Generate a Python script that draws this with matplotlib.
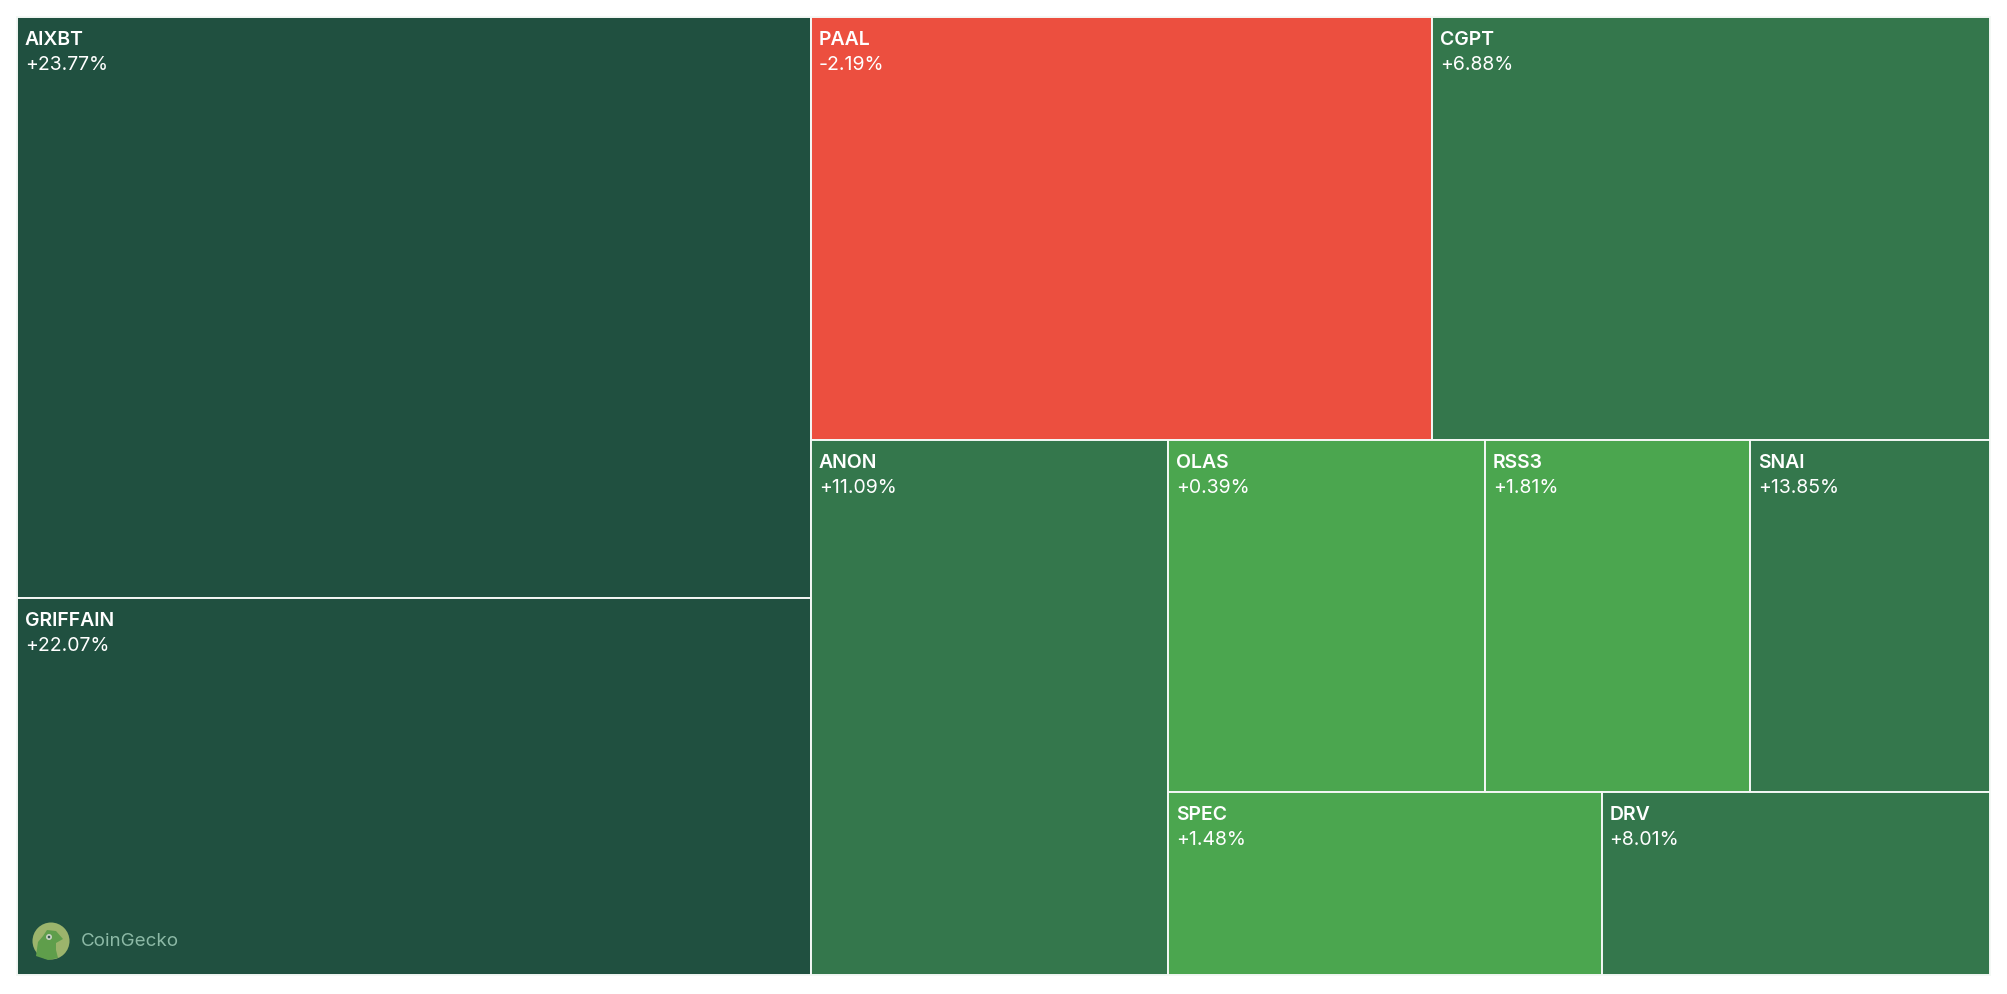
#!/usr/bin/env python

from matplotlib import pyplot as plt
from matplotlib.patches import Circle, Polygon

# share of the whole treemap, read from the tile areas
aixbt_group = ['AIXBT', 'GRIFFAIN']
pair_group = ['PAAL', 'CGPT']
row_group = ['OLAS', 'RSS3', 'SNAI']
low_group = ['SPEC', 'DRV']
solo_group = ['ANON']

shares = {'AIXBT': 24.40, 'GRIFFAIN': 15.84, 'PAAL': 13.90, 'CGPT': 12.49, 'ANON': 10.10,
          'OLAS': 5.90, 'RSS3': 4.94, 'SNAI': 4.47, 'SPEC': 4.20, 'DRV': 3.76}
changes = {'AIXBT': 23.77, 'GRIFFAIN': 22.07, 'PAAL': -2.19, 'CGPT': 6.88, 'ANON': 11.09,
           'OLAS': 0.39, 'RSS3': 1.81, 'SNAI': 13.85, 'SPEC': 1.48, 'DRV': 8.01}

FONT = 'Inter'


def total(names):
  return sum(shares[n] for n in names)


def colour(change):
  if change < 0:
    return '#ec4f3f'
  if change < 5:
    return '#4ba64f'
  if change < 20:
    return '#34774c'
  return '#205040'


def slice_h(names, x, y, w, h):
  # tiles side by side
  out = {}
  for n in names:
    tw = w * shares[n] / total(names)
    out[n] = (x, y, tw, h)
    x += tw
  return out


def slice_v(names, x, y, w, h):
  # tiles stacked
  out = {}
  for n in names:
    th = h * shares[n] / total(names)
    out[n] = (x, y, w, th)
    y += th
  return out


def layout(x, y, w, h):
  tiles = {}
  right = pair_group + solo_group + row_group + low_group
  left_w = w * total(aixbt_group) / (total(aixbt_group) + total(right))
  tiles.update(slice_v(aixbt_group, x, y, left_w, h))
  x += left_w
  w -= left_w

  top_h = h * total(pair_group) / total(right)
  tiles.update(slice_h(pair_group, x, y, w, top_h))
  y += top_h
  h -= top_h

  rest = row_group + low_group
  solo_w = w * total(solo_group) / (total(solo_group) + total(rest))
  tiles.update(slice_h(solo_group, x, y, solo_w, h))
  x += solo_w
  w -= solo_w

  row_h = h * total(row_group) / total(rest)
  tiles.update(slice_h(row_group, x, y, w, row_h))
  tiles.update(slice_h(low_group, x, y + row_h, w, h - row_h))
  return tiles


fig = plt.figure(figsize=(20.08, 9.94), dpi=100, facecolor='white')
ax = fig.add_axes([0, 0, 1, 1])
ax.set_xlim(0, 2008)
ax.set_ylim(994, 0)
ax.axis('off')

tiles = layout(17, 17, 1973, 958)
for name, (x, y, w, h) in tiles.items():
  ch = changes[name]
  ax.bar(x, h, width=w, bottom=y, align='edge', color=colour(ch), edgecolor='#f4f8f5', linewidth=1.4)
  ax.text(x + 8, y + 28, name, color='white', fontsize=14, fontweight='semibold', family=FONT)
  ax.text(x + 8, y + 53, '%+.2f%%' % ch, color='white', fontsize=14, family=FONT)

# coingecko mark, bottom left
ax.add_patch(Circle((51, 941), 18.5, facecolor='#9cb46c', edgecolor='none'))
ax.add_patch(Polygon([(36, 956), (38, 942), (43, 936), (47, 930), (56, 931), (63, 939), (56, 943),
                      (56, 950), (58, 958), (48, 960)], closed=True, facecolor='#5f9e4b', edgecolor='none'))
ax.add_patch(Circle((49, 937), 3, facecolor='#c9d3c4', edgecolor='none'))
ax.add_patch(Circle((49, 937), 1.3, facecolor='#35584c', edgecolor='none'))
ax.text(81, 941, 'CoinGecko', color='#8cb9a6', fontsize=13.5, family=FONT, va='center')

fig.savefig('out.png', dpi=100, facecolor='white')
